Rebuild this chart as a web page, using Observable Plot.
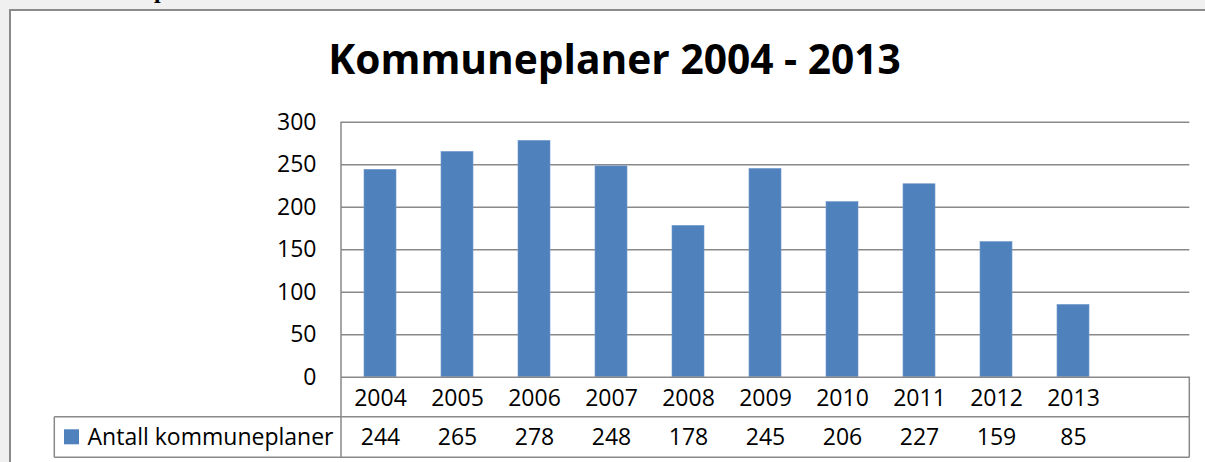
<!DOCTYPE html>
<html>
<head>
<meta charset="utf-8">
<script src="https://cdn.jsdelivr.net/npm/d3@7"></script>
<script src="https://cdn.jsdelivr.net/npm/@observablehq/plot@0.6"></script>
<style>
  html, body { margin: 0; padding: 0; width: 1205px; height: 462px; overflow: hidden; background: #f0f0f0; }
  #frame { position: absolute; left: 9px; top: 9px; width: 1260px; height: 500px; background: #fff; border: 2px solid #8a8a8a; box-sizing: border-box; }
  #frag { position: absolute; left: 154px; top: -22px; font: bold 24px/24px "Liberation Serif", serif; color: #000; }
  #title { position: absolute; left: 0; top: 33px; width: 1229px; text-align: center; font: bold 40.7px/50px "Open Sans", sans-serif; color: #000; white-space: nowrap; }
  #chart { position: absolute; left: 0; top: 95px; }
</style>
</head>
<body>
<div id="frame"></div>
<div id="frag">p</div>
<div id="title">Kommuneplaner 2004 - 2013</div>
<div id="chart"></div>
<script>
const years = ["2004", "2005", "2006", "2007", "2008", "2009", "2010", "2011", "2012", "2013"];
const values = [244, 265, 278, 248, 178, 245, 206, 227, 159, 85];
const yTicks = [0, 50, 100, 150, 200, 250, 300];
const seriesName = "Antall kommuneplaner";
const barColor = "#4f81bd";
const lineColor = "#898989";

const data = years.map((year, i) => ({year, value: values[i]}));

const plot = Plot.plot({
  width: 1205,
  height: 367,
  marginTop: 26.7,
  marginLeft: 341,
  marginRight: 15.7,
  marginBottom: 85.3,
  style: {fontFamily: "'Open Sans', sans-serif", fontSize: "23px", background: "transparent", overflow: "visible", color: "#000"},
  x: {domain: [...years, ""], paddingInner: 0.59, paddingOuter: 0.295, axis: null},
  y: {domain: [0, 300], axis: null},
  marks: [
    Plot.gridY(yTicks.filter(t => t > 0), {stroke: lineColor, strokeOpacity: 1, strokeWidth: 1.5}),
    Plot.barY(data, {x: "year", y: "value", fill: barColor, stroke: "#6f98cc", strokeWidth: 0.6}),
    Plot.ruleY([0], {stroke: lineColor, strokeWidth: 1.5}),
    Plot.axisY({ticks: yTicks, tickSize: 0, tickPadding: 25, fontSize: 23, label: null, tickFormat: d => String(d)}),
    Plot.text(years, {x: d => d, frameAnchor: "bottom", dy: 28.5, fontSize: 23, fill: "#000"}),
    Plot.text(data, {x: "year", text: d => String(d.value), frameAnchor: "bottom", dy: 68, fontSize: 23, fill: "#000"}),
    Plot.text([seriesName], {text: d => d, frameAnchor: "bottom-left", dx: -8, dy: 68, textAnchor: "end", fontSize: 23, fill: "#000"})
  ]
});

// data-table borders and legend swatch, positioned from the plot's own scales
const sx = plot.scale("x");
const sy = plot.scale("y");
const xl = sx.range[0], xr = sx.range[1];
const y0 = sy.apply(0), yTop = sy.apply(300);
const row1 = y0 + 40, row2 = y0 + 80.6, tableLeft = 54.3;
const svg = d3.select(plot);
const g = svg.append("g").attr("stroke", lineColor).attr("stroke-width", 1.5).attr("fill", "none");
g.append("line").attr("x1", tableLeft).attr("x2", xr).attr("y1", row1).attr("y2", row1);
g.append("line").attr("x1", tableLeft).attr("x2", xr).attr("y1", row2).attr("y2", row2);
g.append("line").attr("x1", tableLeft).attr("x2", tableLeft).attr("y1", row1).attr("y2", row2);
g.append("line").attr("x1", xl).attr("x2", xl).attr("y1", yTop).attr("y2", row2);
g.append("line").attr("x1", xr).attr("x2", xr).attr("y1", y0).attr("y2", row2);
svg.append("rect").attr("x", 64).attr("y", y0 + 52.6).attr("width", 15).attr("height", 15).attr("fill", barColor);

document.getElementById("chart").appendChild(plot);
</script>
</body>
</html>
